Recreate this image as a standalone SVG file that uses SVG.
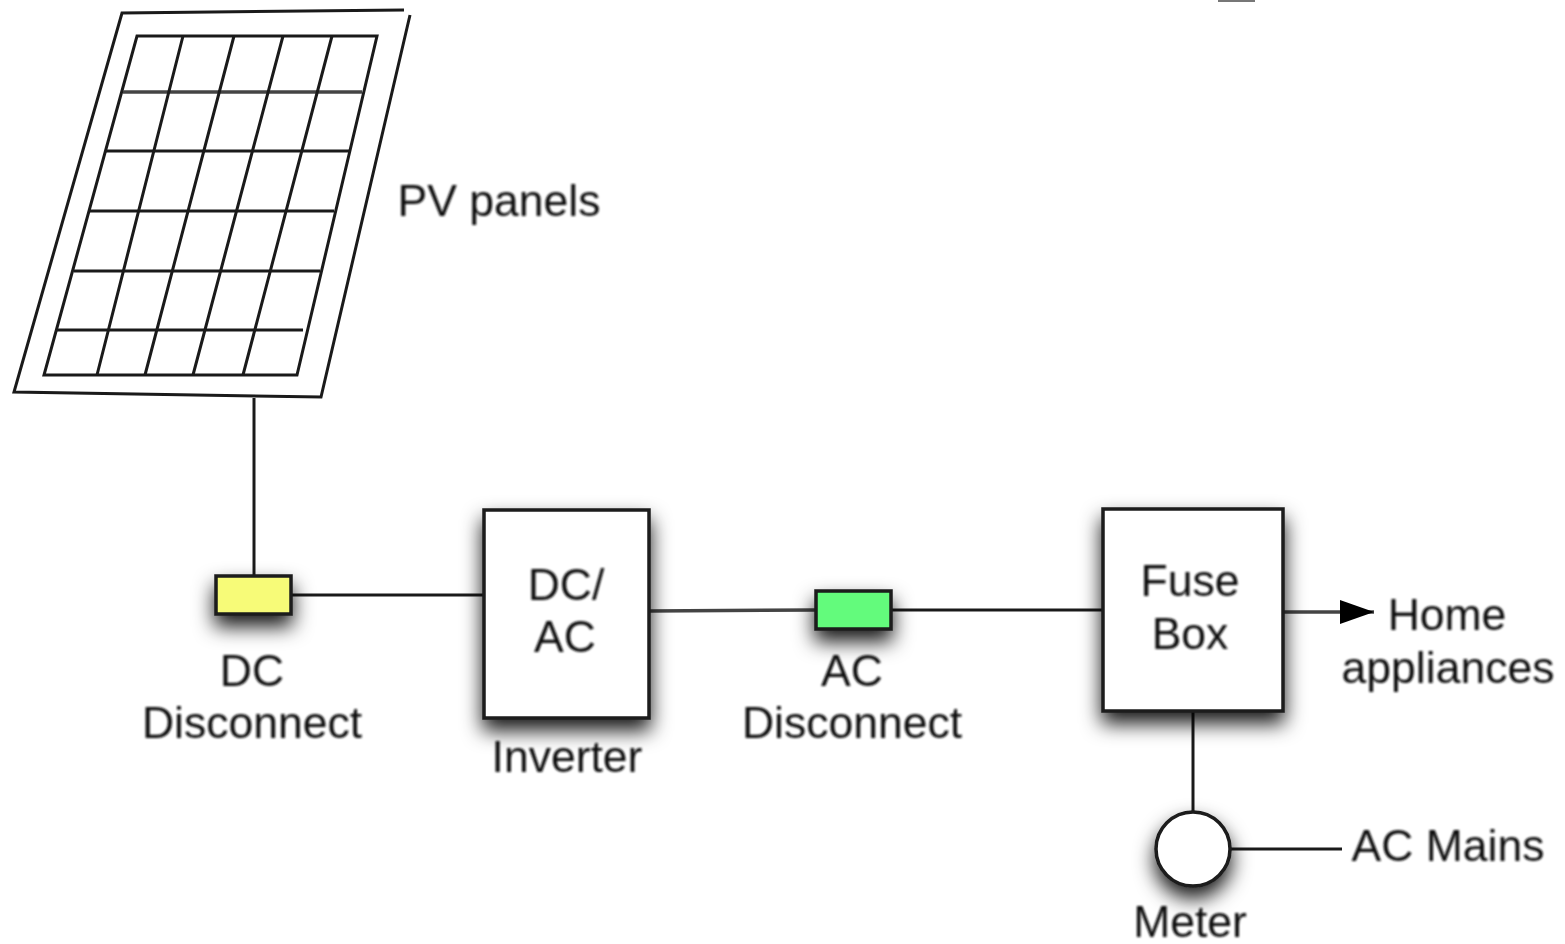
<svg xmlns="http://www.w3.org/2000/svg" width="1565" height="944" viewBox="0 0 1565 944">
<style>
.w{fill:none;stroke:#1a1a1a;stroke-width:3}
.g{fill:none;stroke:#444;stroke-width:3.5}
.b{stroke:#1a1a1a;stroke-width:3.5;filter:url(#sh)}
text{font-family:"Liberation Sans",Arial,sans-serif;font-size:44.5px;fill:#111;text-anchor:middle;filter:url(#soft)}
</style>
<defs>
<filter id="sh" x="-80%" y="-150%" width="260%" height="400%"><feDropShadow dx="0" dy="11" stdDeviation="10" flood-color="#000" flood-opacity=".9"/></filter>
<filter id="soft" x="-5%" y="-5%" width="110%" height="110%"><feGaussianBlur stdDeviation=".8"/></filter>
<marker id="arr" markerUnits="userSpaceOnUse" markerWidth="36" markerHeight="26" refX="34" refY="12" orient="auto"><path d="M0 0L34 12L0 24Z" fill="#000"/></marker>
</defs>
<rect width="1565" height="944" fill="#fff"/>
<g id="connectors">
<path class="w" d="M254 398V576"/>
<path class="w" d="M291 595H484"/>
<path class="g" d="M649 611L816 610"/>
<path class="w" d="M891 610H1103"/>
<path class="g" d="M1283 612H1374" marker-end="url(#arr)"/>
<path class="w" d="M1193 711V811"/>
<path class="w" d="M1231 849H1342"/>
</g>
<g id="pv-panels">
<path class="w" d="M404 10L122 13L14 392L321 397L410 15"/>
<path class="w" d="M137 36H377L297 375H44Z"/>
<path class="g" d="M123 92H362"/>
<path class="w" d="M105 151H349M90 211H334M74 271H320M57 330H303"/>
<path class="w" d="M183 36L97 375M234 36L145 375M283 36L193 375M332 36L243 375"/>
<text x="499" y="216">PV panels</text>
</g>
<g id="dc-disconnect">
<rect class="b" x="216" y="576" width="75" height="38" fill="#f7fb78"/>
<text x="252" y="686">DC</text>
<text x="252" y="738">Disconnect</text>
</g>
<g id="inverter">
<rect class="b" x="484" y="510" width="165" height="208" fill="#fff"/>
<text x="566" y="600">DC/</text>
<text x="565" y="652">AC</text>
<text x="567" y="772">Inverter</text>
</g>
<g id="ac-disconnect">
<rect class="b" x="816" y="591" width="75" height="38" fill="#64fb7c"/>
<text x="852" y="686">AC</text>
<text x="852" y="738">Disconnect</text>
</g>
<g id="fuse-box">
<rect class="b" x="1103" y="509" width="180" height="202" fill="#fff"/>
<text x="1190" y="596">Fuse</text>
<text x="1190" y="649">Box</text>
</g>
<g id="meter">
<circle class="b" cx="1193" cy="849" r="37" fill="#fff"/>
<text x="1190" y="937">Meter</text>
</g>
<g id="home-appliances">
<text x="1447" y="630">Home</text>
<text x="1448" y="683">appliances</text>
</g>
<g id="ac-mains"><text x="1448" y="861">AC Mains</text></g>
<path d="M1218 1H1255" stroke="#777" stroke-width="2" fill="none"/>
</svg>
